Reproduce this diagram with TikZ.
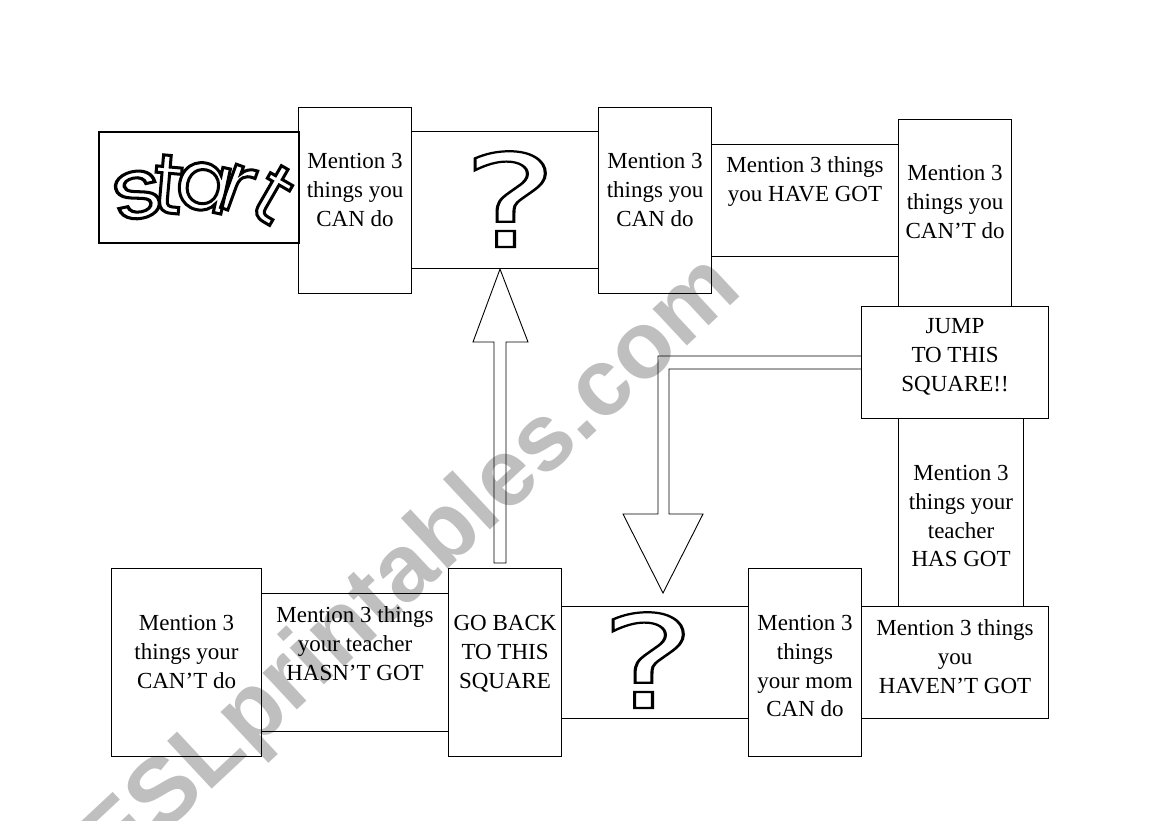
\documentclass[tikz,border=0pt]{standalone}
\usepackage{fontspec}
\usepackage{graphicx}
\setmainfont{Liberation Serif}
\newfontfamily\logofont{Poppins}
\newfontfamily\qmfont{DejaVu Sans}
\newfontfamily\wmfont{Liberation Sans}
\usetikzlibrary{calc}
\definecolor{wmgray}{RGB}{191,191,191}
\newcommand\olt[2][2.6]{\special{pdf:literal direct #1 w 1 Tr}#2\special{pdf:literal direct 0 Tr}}
\newcommand\lt[3]{\makebox[0pt]{\raisebox{#1}{\rotatebox[origin=c]{#2}{#3}}}}
\begin{document}
\begin{tikzpicture}[x=1pt,y=-1pt,
  sq/.style={draw, line width=1.1pt, rectangle, inner sep=0pt, anchor=north west},
  txt/.style={font=\fontsize{23}{28.8}\selectfont, align=center, inner sep=0pt, anchor=north},
  logo/.style={font=\logofont\fontsize{84}{84}\selectfont, inner sep=0pt, anchor=base west},
  qm/.style={font=\qmfont\fontsize{129}{129}\selectfont, inner sep=0pt, anchor=base, xscale=1.4},
  blockarrow/.style={draw, line width=0.9pt, line join=miter}]
\useasboundingbox (0,0) rectangle (1169,821);
% watermark
\node[font=\wmfont\bfseries\fontsize{95}{95}\selectfont, text=wmgray, rotate=43,
      anchor=base west, inner sep=0pt] (wm) at (115,880) {ESLprintables.com};
% squares
\node[sq, line width=2.2pt, minimum width=200, minimum height=111] (start) at (98,131) {};
\node[sq, minimum width=113, minimum height=186] (canA) at (298,107) {};
\node[sq, minimum width=187, minimum height=137] (q1) at (411,131) {};
\node[sq, minimum width=113, minimum height=186] (canB) at (598,107) {};
\node[sq, minimum width=187, minimum height=112] (have) at (711,144) {};
\node[sq, minimum width=113, minimum height=187] (cant) at (898,119) {};
\node[sq, minimum width=187, minimum height=112] (jump) at (861,306) {};
\node[sq, minimum width=125, minimum height=188] (thas) at (898,418) {};
\node[sq, minimum width=187, minimum height=112] (havent) at (861,606) {};
\node[sq, minimum width=113, minimum height=188] (mom) at (748,568) {};
\node[sq, minimum width=187, minimum height=112] (q2) at (561,606) {};
\node[sq, minimum width=113, minimum height=188] (goback) at (448,568) {};
\node[sq, minimum width=187, minimum height=138] (hasnt) at (261,593) {};
\node[sq, minimum width=150, minimum height=188] (cantyour) at (111,568) {};
% texts
\node[logo] (logotext) at (100,218) {\olt[3]{\kern37pt\lt{0pt}{12}{\scalebox{1.15}[1]{s}}\kern31pt\lt{5pt}{-5}{t}\kern36pt\lt{8pt}{-12}{a}\kern33pt\lt{6pt}{-20}{r}\kern36pt\lt{-5pt}{-30}{t}\kern20pt}};
\node[txt] (tcanA) at ($(canA.north)+(0,46)$) {Mention 3\\things you\\CAN do};
\node[qm] (qm1) at (510,247) {\olt[2.2]{?}};
\node[txt] (tcanB) at ($(canB.north)+(0,46)$) {Mention 3\\things you\\CAN do};
\node[txt] (thave) at ($(have.north)+(0,12.5)$) {Mention 3 things\\you HAVE GOT};
\node[txt] (tcant) at ($(cant.north)+(0,46)$) {Mention 3\\things you\\CAN’T do};
\node[txt] (tjump) at ($(jump.north)+(0,12.5)$) {JUMP\\TO THIS\\SQUARE!!};
\node[txt] (tthas) at ($(thas.north)+(0,47)$) {Mention 3\\things your\\teacher\\HAS GOT};
\node[txt] (thavent) at ($(havent.north)+(0,13.5)$) {Mention 3 things\\you\\HAVEN’T GOT};
\node[txt] (tmom) at ($(mom.north)+(0,47)$) {Mention 3\\things\\your mom\\CAN do};
\node[qm] (qm2) at (648,708) {\olt[2.2]{?}};
\node[txt] (tgoback) at ($(goback.north)+(0,47)$) {GO BACK\\TO THIS\\SQUARE};
\node[txt] (thasnt) at ($(hasnt.north)+(0,13.5)$) {Mention 3 things\\your teacher\\HASN’T GOT};
\node[txt] (tcantyour) at ($(cantyour.north)+(0,47)$) {Mention 3\\things your\\CAN’T do};
% block arrows
\coordinate (upfoot) at ($(goback.north)+(0,-5)$);
\coordinate (downtip) at ($(q2.north -| 663,0)+(0,-13)$);
\draw[blockarrow] (upfoot -| 494,0) -- (494,342) -- (473,342) -- (q1.south -| 500,0)
   -- (528,342) -- (506,342) -- (upfoot -| 506,0) -- cycle;
\draw[blockarrow] (jump.west |- 0,356) -- (658,356) -- (658,514) -- (623,514)
   -- (downtip) -- (703,514) -- (669,514) -- (669,369) -- (jump.west |- 0,369);
\end{tikzpicture}
\end{document}
